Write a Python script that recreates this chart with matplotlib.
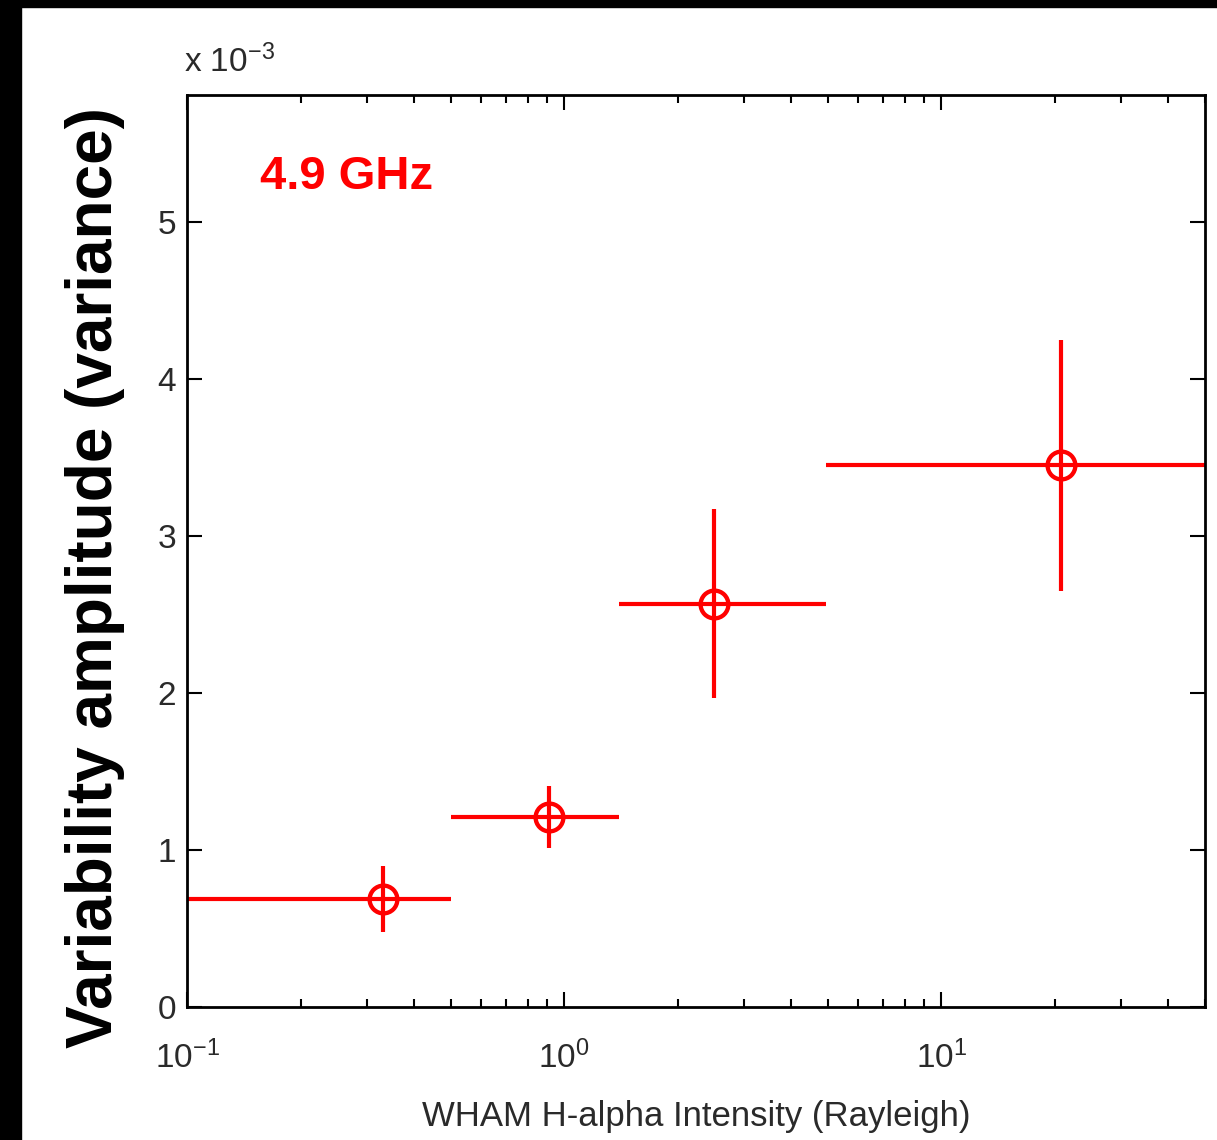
import numpy as np
import matplotlib.pyplot as plt
import matplotlib.font_manager as fm
from matplotlib.patches import Rectangle
from matplotlib.ticker import FuncFormatter

# WHAM H-alpha bins (Rayleigh) and variability amplitude (x 1e-3)
x_center = [0.33, 0.91, 2.5, 20.7]
x_low = [0.1, 0.5, 1.4, 4.95]
x_high = [0.5, 1.4, 4.95, 50.0]
amp = [0.69, 1.21, 2.57, 3.45]
amp_err = [0.21, 0.20, 0.60, 0.80]

names = {f.name for f in fm.fontManager.ttflist}
base = 'Liberation Sans' if 'Liberation Sans' in names else 'DejaVu Sans'
tick_font = [base, 'DejaVu Sans']
tick_col = '#2a2a2a'

plt.rcParams['mathtext.fontset'] = 'custom'
plt.rcParams['mathtext.rm'] = base
plt.rcParams['mathtext.it'] = base
plt.rcParams['mathtext.bf'] = base + ':bold'

fig = plt.figure(figsize=(12.17, 11.4), dpi=100)
fig.patch.set_facecolor('white')
# black frame from the screenshot
fig.patches.append(Rectangle((0, 0), 21/1217, 1, transform=fig.transFigure, color='black', zorder=-1))
fig.patches.append(Rectangle((0, 1 - 7/1140), 1, 7/1140, transform=fig.transFigure, color='black', zorder=-1))

ax = fig.add_axes([187/1217, 1 - 1007/1140, (1205-187)/1217, (1007-95)/1140])

xc = np.array(x_center)
xerr = [xc - np.array(x_low), np.array(x_high) - xc]
ax.errorbar(xc, amp, xerr=xerr, yerr=amp_err, fmt='o', color='red', ecolor='red',
            elinewidth=3.0, capsize=0, markersize=20, markerfacecolor='none',
            markeredgewidth=3.1, clip_on=False)

ax.set_xscale('log')
ax.set_xlim(0.1, 50)
ax.set_ylim(0, 5.81)
ax.set_yticks([0, 1, 2, 3, 4, 5])
ax.set_yticklabels(['0', '1', '2', '3', '4', '5'])
ax.xaxis.set_major_formatter(FuncFormatter(lambda v, p: r'$\mathregular{10^{%d}}$' % round(np.log10(v))))

for s in ax.spines.values():
    s.set_linewidth(2)
ax.tick_params(which='both', direction='in', top=True, right=True, colors='black',
               labelcolor=tick_col, width=1.5)
ax.tick_params(which='major', length=11, labelsize=24)
ax.tick_params(axis='y', which='major', pad=8)
ax.tick_params(axis='x', which='major', pad=24)
ax.tick_params(which='minor', length=6)
for lbl in ax.get_xticklabels() + ax.get_yticklabels():
    lbl.set_family(tick_font)

fig.text(184/1217, 1 - 72/1140, r'x $\mathregular{10^{-3}}$', fontsize=24, color=tick_col,
         family=tick_font, va='baseline', ha='left')

ax.set_xlabel('WHAM H-alpha Intensity (Rayleigh)', fontsize=25, color=tick_col,
              family=tick_font, labelpad=18)
fig.text(95/1217, 1 - 578/1140, 'Variability amplitude (variance)', rotation=90,
         fontsize=46, fontweight='bold', family=tick_font,
         ha='center', va='center', color='black')

ax.text(260/1217, 1 - 177/1140, '4.9 GHz', transform=fig.transFigure, color='red', fontsize=34,
        fontweight='bold', family=tick_font, ha='left', va='center')

fig.savefig('out.png', dpi=100)
